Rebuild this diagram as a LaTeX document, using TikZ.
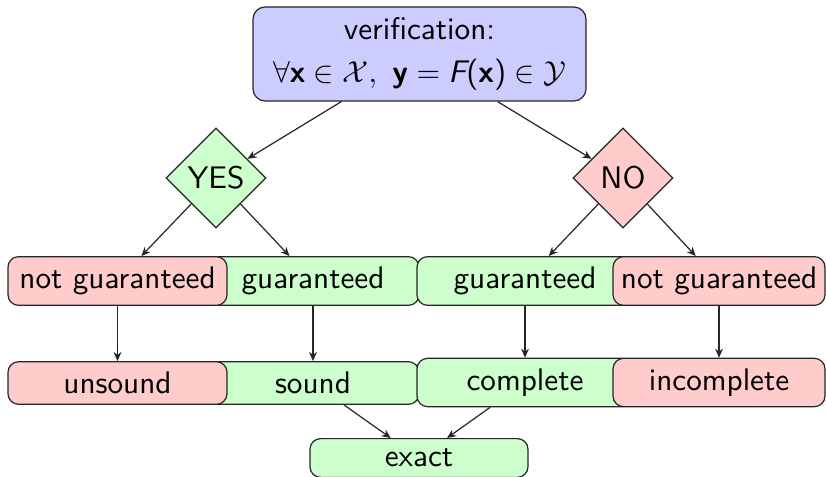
\documentclass[tikz,border=0pt]{standalone}
\usetikzlibrary{shapes.geometric,arrows.meta}
\renewcommand{\familydefault}{\sfdefault}
\definecolor{boxblue}{RGB}{204,204,255}
\definecolor{boxgreen}{RGB}{204,255,204}
\definecolor{boxred}{RGB}{255,204,204}
\begin{document}
\begin{tikzpicture}[x=0.33pt,y=-0.33pt,
  every node/.style={font=\sffamily\fontsize{10.3}{12.6}\selectfont},
  rbox/.style={draw=black!85,rounded corners=3.5pt,inner xsep=2pt,inner ysep=3.4pt},
  good/.style={rbox,fill=boxgreen},
  bad/.style={rbox,fill=boxred},
  choice/.style={diamond,draw=black!85,aspect=1,inner sep=0pt,minimum width=33pt,minimum height=33pt},
  link/.style={draw=black!85,-{Stealth[length=3pt,width=2.6pt]}}]
\useasboundingbox (0,0) rectangle (826,477);

% question box
\node[rbox,fill=boxblue,minimum width=333*0.33pt,minimum height=94*0.33pt,align=center,rounded corners=4pt]
  (top) at (419.5,54)
  {verification:\\[1.5pt] $\forall\textbf{x}\in\mathcal{X},\ \textbf{y}=\textit{F}\textnormal{(}\textbf{x}\textnormal{)}\in\mathcal{Y}$};

% answers
\node[choice,fill=boxgreen] (yes) at (216,178) {YES};
\node[choice,fill=boxred] (no) at (623,178) {NO};

% first row: guarantees
\node[good,minimum width=212*0.33pt] (g1) at (313,281) {guaranteed};
\node[bad,minimum width=219*0.33pt] (ng1) at (117.5,281) {not guaranteed};
\node[good,minimum width=216*0.33pt] (g2) at (525,281) {guaranteed};
\node[bad,minimum width=212*0.33pt] (ng2) at (719,281) {not guaranteed};

% second row: properties
\node[good,minimum width=212*0.33pt] (snd) at (313,383) {sound};
\node[bad,minimum width=219*0.33pt] (uns) at (117.5,383) {unsound};
\node[good,minimum width=216*0.33pt] (cmp) at (525,382.5) {complete};
\node[bad,minimum width=212*0.33pt] (inc) at (719,382.5) {incomplete};

% bottom
\node[good,minimum width=218*0.33pt] (ex) at (419,458) {exact};

% connectors
\draw[link] (top) -- (yes);
\draw[link] (top) -- (no);
\draw[link] (yes) -- (ng1);
\draw[link] (yes) -- (g1);
\draw[link] (no) -- (g2);
\draw[link] (no) -- (ng2);
\draw[link] (ng1) -- (uns);
\draw[link] (g1) -- (snd);
\draw[link] (g2) -- (cmp);
\draw[link] (ng2) -- (inc);
\draw[link] (snd) -- (ex);
\draw[link] (cmp) -- (ex);
\end{tikzpicture}
\end{document}
